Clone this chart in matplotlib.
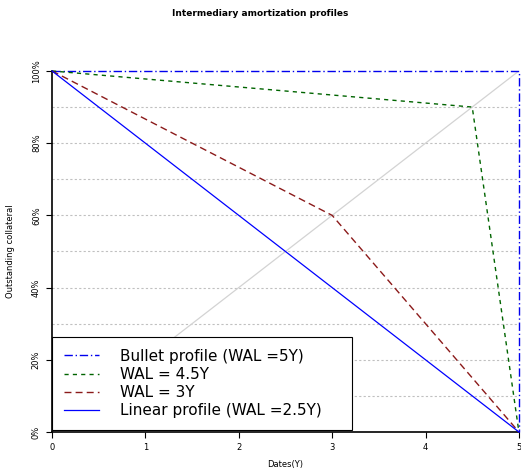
import matplotlib.pyplot as plt
from matplotlib.ticker import FuncFormatter

# amortization profiles (x in years, y as fraction outstanding)
bullet_x = [0, 5, 5]
bullet_y = [1.0, 1.0, 0.0]
wal45_x = [0, 4.5, 5]
wal45_y = [1.0, 0.9, 0.0]
wal3_x = [0, 3, 5]
wal3_y = [1.0, 0.6, 0.0]
linear_x = [0, 5]
linear_y = [1.0, 0.0]
diag_x = [0, 5]
diag_y = [0.0, 1.0]

grid_levels = [0.1, 0.2, 0.3, 0.4, 0.5, 0.6, 0.7, 0.8, 0.9]
labels = ["Bullet profile (WAL =5Y)", "WAL = 4.5Y", "WAL = 3Y",
          "Linear profile (WAL =2.5Y)"]

fig = plt.figure(figsize=(5.21, 4.73), dpi=100)
ax = fig.add_axes([0.0998, 0.0867, 0.8962, 0.7633])

for g in grid_levels:
    ax.axhline(g, color="#c0c0c0", lw=0.8, ls=(0, (2, 2)), zorder=1)
ax.plot(diag_x, diag_y, color="#d3d3d3", lw=0.9, zorder=1)

ax.plot(bullet_x, bullet_y, color="#0000ee", lw=1, ls=(0, (6, 2, 1, 2)),
        clip_on=False, label=labels[0], zorder=3)
ax.plot(wal45_x, wal45_y, color="#006400", lw=1, ls=(0, (3, 3)),
        clip_on=False, label=labels[1], zorder=3)
ax.plot(wal3_x, wal3_y, color="#8b1a1a", lw=1, ls=(0, (5, 3)),
        clip_on=False, label=labels[2], zorder=3)
ax.plot(linear_x, linear_y, color="#0000ff", lw=0.9,
        clip_on=False, label=labels[3], zorder=3)

ax.set_xlim(0, 5)
ax.set_ylim(0, 1)
ax.spines["top"].set_visible(False)
ax.spines["right"].set_visible(False)
ax.spines["left"].set_linewidth(1.2)
ax.spines["bottom"].set_linewidth(1.2)
ax.set_xticks([0, 1, 2, 3, 4, 5])
ax.set_yticks([0, 0.2, 0.4, 0.6, 0.8, 1.0])
ax.yaxis.set_major_formatter(FuncFormatter(lambda v, p: f"{v*100:.0f}%"))
ax.tick_params(labelsize=6, length=4, width=0.8, pad=4)
for t in ax.get_yticklabels():
    t.set_rotation(90)
    t.set_va("center")

ax.set_xlabel("Dates(Y)", fontsize=6, labelpad=6)
ax.set_ylabel("Outstanding collateral", fontsize=6, labelpad=12)
fig.suptitle("Intermediary amortization profiles", fontsize=6.5,
             fontweight="bold", y=0.982)

leg = ax.legend(loc="lower left", bbox_to_anchor=(0, 0.005, 0.642, 0.26),
                mode="expand", fontsize=11, frameon=True, fancybox=False,
                edgecolor="black", framealpha=1, borderaxespad=0,
                handlelength=2.3, handletextpad=1.35, labelspacing=0.2,
                borderpad=0.8)
leg.get_frame().set_linewidth(0.8)

fig.savefig("out.png", dpi=100)
